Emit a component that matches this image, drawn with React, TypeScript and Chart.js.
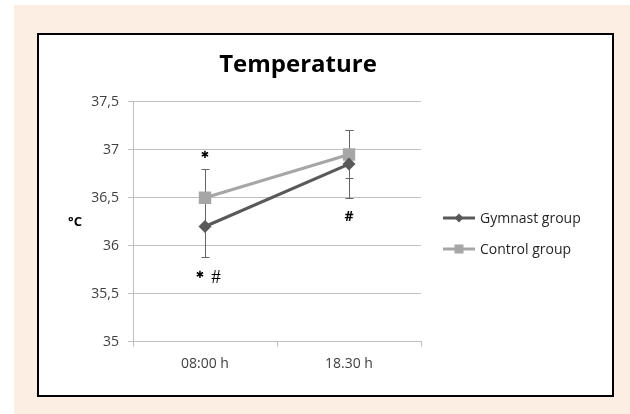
import React, { useEffect, useRef } from 'react';
import { Chart, registerables } from 'chart.js';

Chart.register(...registerables);

const categories = ['08:00 h', '18.30 h'];
const seriesNames = ['Gymnast group', 'Control group'];
const gymnastValues = [36.2, 36.85];
const controlValues = [36.5, 36.95];
const gymnastErrors = [0.32, 0.35];
const controlErrors = [0.3, 0.25];
const yMin = 35;
const yMax = 37.5;
const yStep = 0.5;
const titleText = 'Temperature';
const yAxisTitle = '°C';
// significance marks: text, category index, anchored value, horizontal shift
const markTexts = ['✱', '✱', '#', '#'];
const markCats = [0, 0, 0, 1];
const markValues = [36.945, 35.695, 35.665, 36.3];
const markShift = [0, -5, 11, 0];
const markFonts = [
  'bold 10px "DejaVu Sans"',
  'bold 10px "DejaVu Sans"',
  '19px "Liberation Serif"',
  'bold 14px "Open Sans"',
];

const darkGray = '#595959';
const lightGray = '#a6a6a6';
const errColor = '#666666';
const gridColor = '#bfbfbf';
const tickColor = '#404040';

const errorBarsPlugin = {
  id: 'errorBars',
  beforeDatasetsDraw(chart: any) {
    const ctx = chart.ctx;
    const xs = chart.scales.x;
    const ys = chart.scales.y;
    const sets = [
      { v: gymnastValues, e: gymnastErrors },
      { v: controlValues, e: controlErrors },
    ];
    ctx.save();
    ctx.strokeStyle = errColor;
    ctx.lineWidth = 1;
    sets.forEach((s) => {
      s.v.forEach((val, i) => {
        const x = Math.round(xs.getPixelForValue(i)) + 0.5;
        const yTop = Math.round(ys.getPixelForValue(val + s.e[i])) + 0.5;
        const yBot = Math.round(ys.getPixelForValue(val - s.e[i])) + 0.5;
        ctx.beginPath();
        ctx.moveTo(x, yTop);
        ctx.lineTo(x, yBot);
        ctx.moveTo(x - 4, yTop);
        ctx.lineTo(x + 4, yTop);
        ctx.moveTo(x - 4, yBot);
        ctx.lineTo(x + 4, yBot);
        ctx.stroke();
      });
    });
    ctx.restore();
  },
};

const decorPlugin = {
  id: 'decor',
  afterDraw(chart: any) {
    const ctx = chart.ctx;
    const xs = chart.scales.x;
    const ys = chart.scales.y;
    ctx.save();
    // title
    ctx.fillStyle = '#000';
    ctx.font = 'bold 24px "Open Sans"';
    ctx.textAlign = 'center';
    ctx.textBaseline = 'alphabetic';
    ctx.fillText(titleText, 259, 37);
    // y axis title
    ctx.font = 'bold 13px "Open Sans"';
    ctx.fillText(yAxisTitle, 36, 191);
    // marks
    ctx.textBaseline = 'middle';
    markTexts.forEach((t, i) => {
      ctx.font = markFonts[i];
      ctx.fillStyle = '#000';
      const x = xs.getPixelForValue(markCats[i]) + markShift[i];
      const y = ys.getPixelForValue(markValues[i]);
      ctx.fillText(t, x, y);
    });
    // legend
    const lx = 404;
    const ly = [183, 214];
    const colors = [darkGray, lightGray];
    seriesNames.forEach((name, i) => {
      ctx.strokeStyle = colors[i];
      ctx.lineWidth = 3;
      ctx.beginPath();
      ctx.moveTo(lx, ly[i]);
      ctx.lineTo(lx + 32, ly[i]);
      ctx.stroke();
      ctx.fillStyle = colors[i];
      const cx = lx + 16;
      if (i === 0) {
        ctx.beginPath();
        ctx.moveTo(cx, ly[i] - 4.5);
        ctx.lineTo(cx + 4.5, ly[i]);
        ctx.lineTo(cx, ly[i] + 4.5);
        ctx.lineTo(cx - 4.5, ly[i]);
        ctx.closePath();
        ctx.fill();
      } else {
        ctx.fillRect(cx - 4.5, ly[i] - 4.5, 9, 9);
      }
      ctx.fillStyle = '#262626';
      ctx.font = '14px "Open Sans"';
      ctx.textAlign = 'left';
      ctx.textBaseline = 'middle';
      ctx.fillText(name, lx + 37, ly[i] + 1);
    });
    ctx.restore();
  },
};

export default function App() {
  const ref = useRef<HTMLCanvasElement | null>(null);

  useEffect(() => {
    if (!ref.current) return;
    const tickFont = { family: '"Open Sans"', size: 14 };
    const chart = new Chart(ref.current, {
      type: 'line',
      data: {
        labels: categories,
        datasets: [
          {
            label: seriesNames[0],
            data: gymnastValues,
            borderColor: darkGray,
            backgroundColor: darkGray,
            borderWidth: 3,
            pointStyle: 'rectRot',
            pointRadius: 6.5,
            pointBorderWidth: 0,
            pointBackgroundColor: darkGray,
            tension: 0,
          },
          {
            label: seriesNames[1],
            data: controlValues,
            borderColor: lightGray,
            backgroundColor: lightGray,
            borderWidth: 3,
            pointStyle: 'rect',
            pointRadius: 8.8,
            pointBorderWidth: 0,
            pointBackgroundColor: lightGray,
            tension: 0,
          },
        ],
      },
      options: {
        animation: false,
        responsive: false,
        devicePixelRatio: 1,
        events: [],
        layout: { padding: { left: 0, top: 66.7, right: 191, bottom: 0 } },
        plugins: {
          legend: { display: false },
          title: { display: false },
          tooltip: { enabled: false },
        },
        scales: {
          x: {
            type: 'category',
            offset: true,
            grid: {
              display: true,
              drawOnChartArea: false,
              drawTicks: true,
              tickLength: 5,
              offset: true,
              color: gridColor,
            },
            border: { color: gridColor },
            ticks: { font: tickFont, color: tickColor, padding: 9 },
            afterFit: (s: any) => {
              s.height = 53.3;
            },
          },
          y: {
            min: yMin,
            max: yMax,
            grid: { color: gridColor, tickLength: 5 },
            border: { color: gridColor },
            ticks: {
              stepSize: yStep,
              font: tickFont,
              color: tickColor,
              padding: 9,
              callback: (v: any) => String(v).replace('.', ','),
            },
            afterFit: (s: any) => {
              s.width = 94;
            },
          },
        },
      },
      plugins: [errorBarsPlugin, decorPlugin],
    } as any);
    return () => chart.destroy();
  }, []);

  return (
    <div>
      <div
        style={{
          position: 'absolute',
          left: 14,
          top: 5,
          width: 616,
          height: 409,
          background: '#fdeee4',
        }}
      />
      <div
        style={{
          position: 'absolute',
          left: 37,
          top: 33,
          width: 577,
          height: 364,
          boxSizing: 'border-box',
          border: '2px solid #000',
          background: '#fff',
        }}
      >
        <canvas ref={ref} width={573} height={360} style={{ display: 'block' }} />
      </div>
    </div>
  );
}
